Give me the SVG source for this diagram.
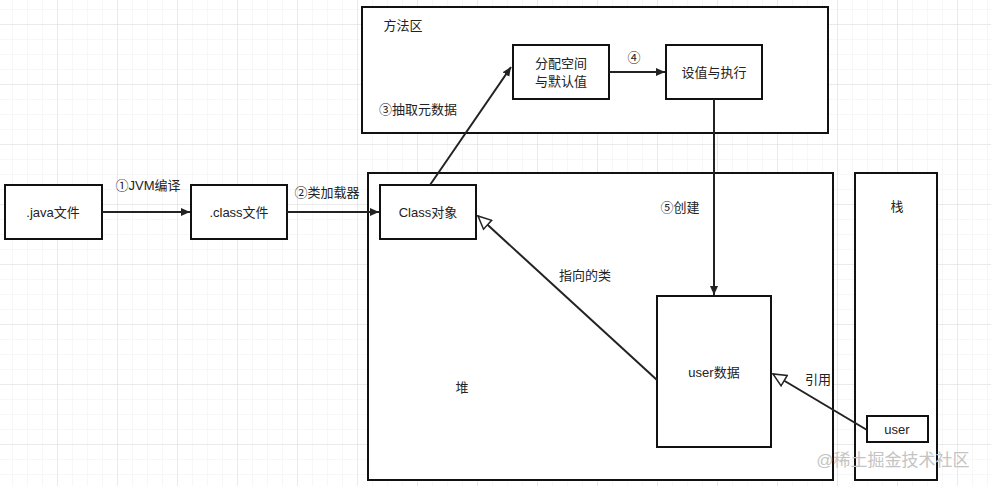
<svg xmlns="http://www.w3.org/2000/svg" width="991" height="486" viewBox="0 0 991 486">
<defs>
<pattern id="minor" width="15" height="15" patternUnits="userSpaceOnUse" x="12" y="9"><path d="M0 0H15M0 0V15" fill="none" stroke="#efefef" stroke-width="1"/></pattern>
<pattern id="major" width="60" height="60" patternUnits="userSpaceOnUse" x="57" y="24"><path d="M0 0H60M0 0V60" fill="none" stroke="#dedede" stroke-width="1"/></pattern>
<marker id="a" markerWidth="10" markerHeight="10" refX="9" refY="5" orient="auto" markerUnits="userSpaceOnUse"><path d="M0 1L9 5L0 9Z" fill="#222"/></marker>
<marker id="t" markerWidth="16" markerHeight="14" refX="14" refY="7" orient="auto" markerUnits="userSpaceOnUse"><path d="M1 1L14 7L1 13Z" fill="#fff" stroke="#222" stroke-width="1.5"/></marker>
</defs>
<style>
rect.n{fill:#fff;stroke:#111;stroke-width:2}
text{font-family:"Liberation Sans","Noto Sans CJK SC",sans-serif;font-size:13px;fill:#222;text-anchor:middle}
.c line{stroke:#222;stroke-width:2}
</style>
<rect width="991" height="486" fill="#fff"/>
<rect width="991" height="486" fill="url(#minor)"/>
<rect width="991" height="486" fill="url(#major)"/>
<g id="method"><rect class="n" x="362" y="7" width="466" height="126"/><text x="403" y="30">方法区</text></g>
<g id="heap"><rect class="n" x="368" y="173" width="465" height="307"/><text x="462" y="392">堆</text></g>
<g id="stack"><rect class="n" x="855" y="173" width="82" height="307"/><text x="897" y="211">栈</text></g>
<g id="java"><rect class="n" x="5" y="185" width="97" height="54"/><text x="53" y="217">.java文件</text></g>
<g id="class"><rect class="n" x="191" y="185" width="96" height="54"/><text x="239" y="217">.class文件</text></g>
<g id="classobj"><rect class="n" x="380" y="185" width="96" height="54"/><text x="428" y="217">Class对象</text></g>
<g id="alloc"><rect class="n" x="513" y="45" width="96" height="54"/><text x="561" y="68">分配空间</text><text x="561" y="86">与默认值</text></g>
<g id="exec"><rect class="n" x="666" y="45" width="96" height="54"/><text x="714" y="77">设值与执行</text></g>
<g id="userdata"><rect class="n" x="657" y="296" width="114" height="151"/><text x="714" y="377">user数据</text></g>
<g id="user"><rect class="n" x="867" y="416" width="61" height="26"/><text x="897" y="434">user</text></g>
<g class="c" id="connectors">
<line x1="102" y1="212" x2="190" y2="212" marker-end="url(#a)"/>
<line x1="287" y1="212" x2="379" y2="212" marker-end="url(#a)"/>
<line x1="430" y1="185" x2="511" y2="67" marker-end="url(#a)"/>
<line x1="609" y1="72" x2="665" y2="72" marker-end="url(#a)"/>
<line x1="714" y1="99" x2="714" y2="295" marker-end="url(#a)"/>
<line x1="657" y1="380" x2="478" y2="216" marker-end="url(#t)"/>
<line x1="867" y1="430" x2="773" y2="374" marker-end="url(#t)"/>
<text x="148" y="190">①JVM编译</text>
<text x="327" y="197">②类加载器</text>
<text x="418" y="114">③抽取元数据</text>
<text x="634" y="62">④</text>
<text x="680" y="212">⑤创建</text>
<text x="585" y="280">指向的类</text>
<text x="818" y="384">引用</text>
</g>
<text x="893" y="466" style="font-size:17px;fill:#c4c4c4">@稀土掘金技术社区</text>
</svg>
